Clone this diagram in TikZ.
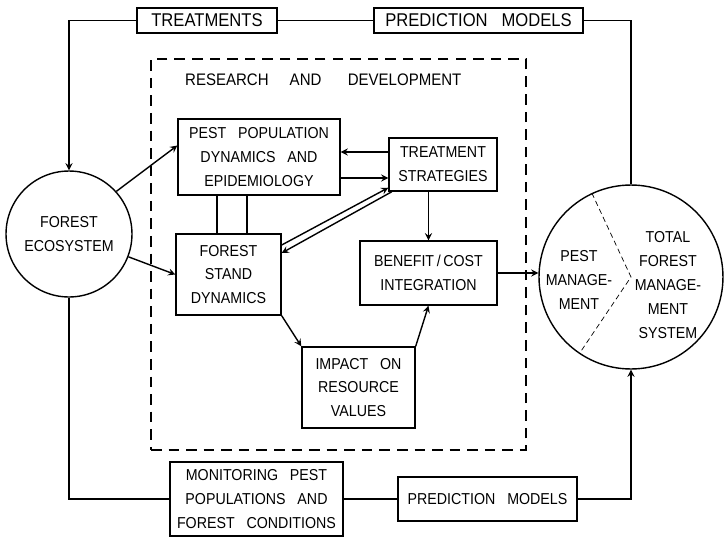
\documentclass[tikz,border=0pt]{standalone}
\usepackage{fontspec}
\setmainfont{Liberation Sans}[FakeStretch=0.9]
\usetikzlibrary{
    arrows,
    shapes
}
\newcommand{\boxfont}{\fontsize{9}{13.6}\selectfont\spaceskip=0.75em plus 0.1em\relax}
\newcommand{\headfont}{\fontsize{10.5}{13.6}\selectfont\spaceskip=0.75em plus 0.1em\relax}
\tikzset{
    box/.style={draw, thick, inner sep=2pt, align=center, font=\boxfont},
    txt/.style={align=center, font=\boxfont},
    conn/.style={->, >=stealth, thick},
    wire/.style={thick}
}

\begin{document}
\begin{tikzpicture}[x=0.02cm, y=-0.02cm]
            \useasboundingbox (0,0) rectangle (725,538);

            \node[box, font=\headfont, minimum width=2.8cm, minimum height=0.5cm] (treat) at (207,20.5) {TREATMENTS};
            \node[box, font=\headfont, minimum width=4.18cm, minimum height=0.5cm] (model1) at (478.5,20.5) {PREDICTION MODELS};
            \node[draw, circle, thick, minimum size=2.52cm, inner sep=0pt, txt] (forest) at (69,234) {FOREST\\ECOSYSTEM};
            \node[draw, circle, thick, minimum size=3.68cm, inner sep=0pt] (total) at (631,277) {};
            \node[txt] (pm) at (579,280) {PEST\\MANAGE-\\MENT};
            \node[txt] (tfm) at (668,285) {TOTAL\\FOREST\\MANAGE-\\MENT\\SYSTEM};

            \node[draw, thick, dash pattern=on 6pt off 4pt, minimum width=7.5cm, minimum height=7.82cm] (rd) at (338.5,254.5) {};
            \node[txt, font=\fontsize{9.5}{13.6}\selectfont, anchor=west] (rdtitle) at (179,80) {RESEARCH\hspace{12pt}AND\hspace{15pt}DEVELOPMENT};

            \node[box, minimum width=3.24cm, minimum height=1.52cm] (pest) at (259,157) {PEST POPULATION\\DYNAMICS AND\\EPIDEMIOLOGY};
            \node[box, minimum width=2.16cm, minimum height=1.06cm] (strategy) at (443,164.5) {TREATMENT\\STRATEGIES};
            \node[box, minimum width=2.1cm, minimum height=1.62cm] (stand) at (228.5,274.5) {FOREST\\STAND\\DYNAMICS};
            \node[box, minimum width=2.74cm, minimum height=1.28cm] (benefit) at (428.5,273) {BENEFIT\,/\,COST\\INTEGRATION};
            \node[box, minimum width=2.26cm, minimum height=1.62cm] (impact) at (358.5,387.5) {IMPACT ON\\RESOURCE\\VALUES};

            \node[box, minimum width=3.46cm, minimum height=1.48cm] (monitor) at (256.5,499) {MONITORING PEST\\POPULATIONS AND\\FOREST CONDITIONS};
            \node[box, minimum width=3.58cm, minimum height=0.88cm] (model2) at (487.5,499) {PREDICTION MODELS};

            \draw[conn] (treat.west) -| (forest.north);
            \draw[wire] (treat.east) -- (model1.west);
            \draw[wire] (model1.east) -| (total.north);
            \draw[wire] (forest.south) |- (monitor.west);
            \draw[wire] (monitor.east) -- (model2.west);
            \draw[conn] (model2.east) -| (total.south);

            \draw[conn] (forest.42) -- (pest.172);
            \draw[conn] (forest.-21) -- (stand.west);

            \coordinate (up) at ([yshift=0.25cm]strategy.west);
            \coordinate (down) at ([yshift=-0.27cm]strategy.west);
            \draw[conn] (up) -- (up -| pest.east);
            \draw[conn] (down -| pest.east) -- (down);

            \coordinate (link1) at ([xshift=-0.23cm]stand.north);
            \coordinate (link2) at ([xshift=0.37cm]stand.north);
            \draw[wire] (link1) -- (link1 |- pest.south);
            \draw[wire] (link2) -- (link2 |- pest.south);

            \draw[conn] (stand.29) -- (strategy.203);
            \draw[conn] (strategy.208) -- (stand.22);

            \draw[conn] (strategy.south -| benefit.north) -- (benefit.north);
            \draw[conn] (stand.south east) -- (impact.north west);
            \draw[conn] (impact.north east) -- (benefit.south);
            \draw[conn] (benefit.east) -- (benefit.east -| total.west);

            \draw[thin, dash pattern=on 3pt off 2pt] (total.115) -- (total.center) -- (total.236);
\end{tikzpicture}
\end{document}
